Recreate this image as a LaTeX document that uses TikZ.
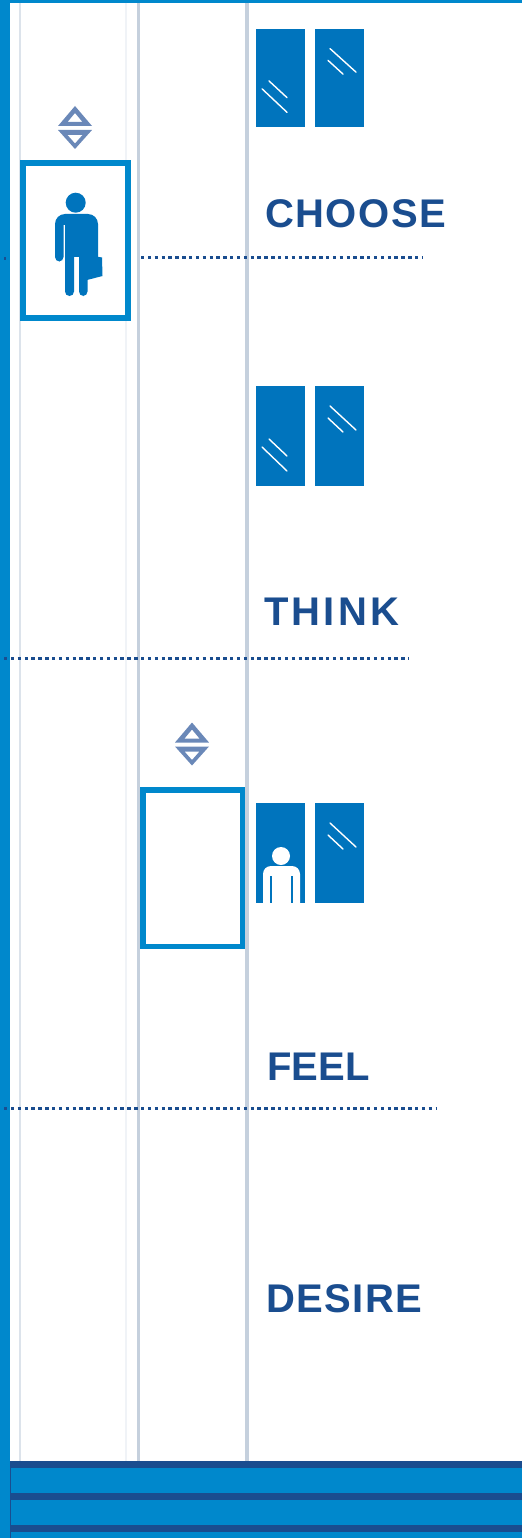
\documentclass[tikz,border=0pt]{standalone}
\usepackage{fontspec}
\setmainfont{Liberation Sans}
\usetikzlibrary{positioning}
\definecolor{bandblue}{RGB}{0,136,204}
\definecolor{paneblue}{RGB}{0,116,189}
\definecolor{darkband}{RGB}{26,77,143}
\definecolor{railgrey}{RGB}{197,208,221}
\definecolor{iconblue}{RGB}{106,136,184}

\begin{document}
\begin{tikzpicture}[
    x=1pt, y=-1pt,
    framebox/.style={rectangle, draw=bandblue, line width=5.5pt, fill=white, inner sep=0pt},
    stage/.style={anchor=base west, inner sep=0pt, text=darkband, font=\fontsize{40}{40}\bfseries\addfontfeatures{LetterSpace=#1}},
    rail/.style={railgrey, line width=3.4pt},
    dotline/.style={darkband, line width=3pt, dash pattern=on 3.4pt off 3.45pt},
    glint/.style={white, line width=1.4pt, line cap=round},
    pane/.pic={\fill[paneblue] (0,0) rectangle (49,100);},
    glintlow/.pic={\draw[glint] (6,61)--(31,85); \draw[glint] (13,53)--(31,70);},
    glinthigh/.pic={\draw[glint] (15,20)--(41,44); \draw[glint] (13,32)--(28,46);},
    updown/.pic={
        \fill[iconblue, even odd rule] (-17,-1.5)--(0,-21.5)--(17,-1.5)--cycle (-7.5,-5.5)--(0,-14.5)--(7.5,-5.5)--cycle;
        \fill[iconblue, even odd rule] (-17,2.5)--(0,21.5)--(17,2.5)--cycle (-7.5,7.5)--(0,16)--(7.5,7.5)--cycle;
    }
]
\useasboundingbox (0,0) rectangle (522,1538);

% outer bands
\fill[bandblue] (0,0) rectangle (522,3);
\fill[bandblue] (0,0) rectangle (10,1538);

% rails
\draw[railgrey!60, line width=1.3pt] (20,3)--(20,1461);
\draw[railgrey!25, line width=1.3pt] (126,3)--(126,1461);
\draw[rail] (138.4,3)--(138.4,1461);
\draw[rail] (246.8,3)--(246.8,1461);

% bottom stripes
\fill[bandblue] (10,1461) rectangle (522,1538);
\fill[darkband] (10,1461) rectangle (522,1468);
\fill[darkband] (10,1493) rectangle (522,1500);
\fill[darkband] (10,1525) rectangle (522,1532);
\fill[darkband] (9.5,1461) rectangle (11,1538);

% level boxes
\node[framebox, line width=6pt, minimum width=105pt, minimum height=155pt] (manbox) at (75.5,240.5) {};
\node[framebox, minimum width=99.5pt, minimum height=156.5pt] (emptybox) at (192.5,868) {};
\pic at (75,127.5) {updown};
\pic at (192,744) {updown};

% man with briefcase
\fill[paneblue] (75.7,202.7) circle (10);
\fill[paneblue] (87,255)--(102,257.5)--(102.5,276)--(87,280)--cycle;
\fill[paneblue, rounded corners=4.5pt] (55,261.5)
    [rounded corners=10pt] --(55,214)--(98,214)
    [rounded corners=0pt] --(98,258)--(87.5,258)
    [rounded corners=4.5pt] --(87.5,296)--(79,296)
    [rounded corners=0pt] --(79,257)--(74,257)
    [rounded corners=4.5pt] --(74,296)--(65,296)
    [rounded corners=0pt] --(65,225)--(63.5,225)
    [rounded corners=4.5pt] --(63.5,261.5)--cycle;

% windows
\pic[yscale=.98] at (256,29) {pane};
\pic[yscale=.98] at (315,29) {pane};
\pic[yscale=.98] at (256,29) {glintlow};
\pic[yscale=.98] at (315,29) {glinthigh};
\pic at (256,386) {pane};
\pic at (315,386) {pane};
\pic at (256,386) {glintlow};
\pic at (315,386) {glinthigh};
\pic at (256,803) {pane};
\pic at (315,803) {pane};
\pic at (315,803) {glinthigh};

% person in the window
\fill[white] (281,856) circle (9);
\fill[white] (263,903)
    [rounded corners=8pt] --(263,866)--(300,866)
    [rounded corners=0pt] --(300,903)--cycle;
\draw[paneblue, line width=1.3pt] (271,876)--(271,903);
\draw[paneblue, line width=1.3pt] (292,876)--(292,903);

% stages
\node[stage=3.7] (choose) at (265,228) {CHOOSE};
\node[stage=8] (think) at (264,625) {THINK};
\node[stage=0.3] (feel) at (267,1080) {FEEL};
\node[stage=3.7] (desire) at (266,1312) {DESIRE};

% dividers
\fill[darkband] (3.5,257.5) rectangle (6,260);
\draw[dotline] (141,257.5)--(422,257.5);
\draw[dotline] (4,658)--(409,658);
\draw[dotline] (4,1108.5)--(437,1108.5);
\end{tikzpicture}
\end{document}
